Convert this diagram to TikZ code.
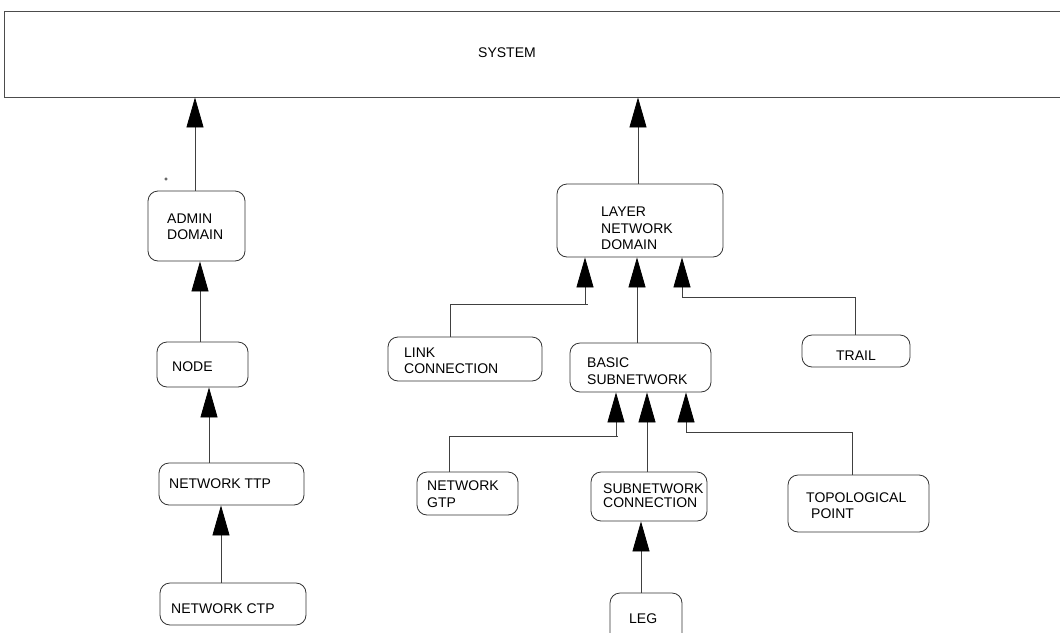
\documentclass[tikz,border=0pt]{standalone}
\usepackage{fontspec}
\setmainfont{Liberation Sans}
\usetikzlibrary{arrows.meta}
\begin{document}
\begin{tikzpicture}[x=1pt,y=-1pt,
  box/.style={draw=black!80, line width=0.8pt, rounded corners=10pt, inner sep=0pt},
  sysbox/.style={draw=black!70, line width=0.9pt, inner sep=0pt},
  lbl/.style={anchor=base west, inner sep=0pt, font=\fontsize{14}{16}\selectfont},
  conn/.style={draw=black!75, line width=0.8pt},
  arr/.style={conn, -{Triangle[length=30pt, width=17pt, color=black, fill=black]}}]
\useasboundingbox (0,0) rectangle (1060,632);
% system
\node[sysbox, minimum width=1066pt, minimum height=86pt] (system) at (537,54) {};
\node[lbl, anchor=base] (tsys) at (507,57) {SYSTEM};
% left column
\node[box, minimum width=97pt, minimum height=70pt] (admin) at (196.5,226) {};
\node[box, minimum width=91pt, minimum height=45pt] (nodeb) at (202.5,364.5) {};
\node[box, minimum width=145pt, minimum height=42pt] (ttp) at (231.5,484) {};
\node[box, minimum width=146pt, minimum height=42pt] (ctp) at (233,604) {};
\node[lbl] (tadmin1) at (167,223) {ADMIN};
\node[lbl] (tadmin2) at (167,239) {DOMAIN};
\node[lbl] (tnode) at (172,371) {NODE};
\node[lbl] (tttp) at (169,488) {NETWORK TTP};
\node[lbl] (tctp) at (171,613) {NETWORK CTP};
\node[circle, draw=black!80, line width=0.6pt, inner sep=0pt, minimum size=2.5pt] (dot) at (166,179) {};
% right part
\node[box, minimum width=166pt, minimum height=73pt] (lnd) at (640,220.5) {};
\node[box, minimum width=154pt, minimum height=44pt] (link) at (465,359) {};
\node[box, minimum width=141pt, minimum height=49pt] (basic) at (640.5,367.5) {};
\node[box, minimum width=108pt, minimum height=32pt] (trail) at (856,351) {};
\node[box, minimum width=101pt, minimum height=43pt] (gtp) at (467.5,493.5) {};
\node[box, minimum width=116pt, minimum height=49pt] (snc) at (649,496.5) {};
\node[box, minimum width=72pt, minimum height=50pt] (leg) at (646,618) {};
\node[box, minimum width=141pt, minimum height=57pt] (topo) at (858.5,503.5) {};
\node[lbl] (tlnd1) at (601,216) {LAYER};
\node[lbl] (tlnd2) at (601,233) {NETWORK};
\node[lbl] (tlnd3) at (601,249) {DOMAIN};
\node[lbl] (tlink1) at (404,357) {LINK};
\node[lbl] (tlink2) at (404,373) {CONNECTION};
\node[lbl] (tbasic1) at (587,367) {BASIC};
\node[lbl] (tbasic2) at (587,384) {SUBNETWORK};
\node[lbl, anchor=base] (ttrail) at (856,360) {TRAIL};
\node[lbl] (tgtp1) at (427,490) {NETWORK};
\node[lbl] (tgtp2) at (427,507) {GTP};
\node[lbl] (tsnc1) at (603,493) {SUBNETWORK};
\node[lbl] (tsnc2) at (603,507) {CONNECTION};
\node[lbl] (tleg) at (629,623) {LEG};
\node[lbl] (ttopo1) at (806,502) {TOPOLOGICAL};
\node[lbl] (ttopo2) at (811,518) {POINT};
% connectors left
\draw[arr] ([xshift=-1.5pt]admin.north) -- ([xshift=-1.5pt]admin.north |- system.south);
\draw[arr] ([xshift=-2.5pt]nodeb.north) -- ([xshift=-2.5pt]nodeb.north |- admin.south);
\draw[arr] ([xshift=-22.5pt]ttp.north) -- ([xshift=-22.5pt]ttp.north |- nodeb.south);
\draw[arr] ([xshift=-12pt]ctp.north) -- ([xshift=-12pt]ctp.north |- ttp.south);
% connectors right
\draw[arr] ([xshift=-2pt]lnd.north) -- ([xshift=-2pt]lnd.north |- system.south);
\draw[arr] ([xshift=-15pt]link.north) |- ([xshift=-55pt,yshift=-47pt]lnd.south) -- ([xshift=-55pt]lnd.south);
\draw[conn] ([xshift=-55pt,yshift=-47pt]lnd.south) -- ([xshift=-52pt,yshift=-47pt]lnd.south);
\draw[arr] ([xshift=-3.5pt]basic.north) -- ([xshift=-3.5pt]basic.north |- lnd.south);
\draw[arr] ([xshift=-1pt]trail.north) |- ([xshift=42pt,yshift=-40pt]lnd.south) -- ([xshift=42pt]lnd.south);
\draw[arr] ([xshift=-18.5pt]gtp.north) |- ([xshift=-24.5pt,yshift=-44pt]basic.south) -- ([xshift=-24.5pt]basic.south);
\draw[conn] ([xshift=-24.5pt,yshift=-44pt]basic.south) -- ([xshift=-23pt,yshift=-44pt]basic.south);
\draw[arr] ([xshift=-2pt]snc.north) -- ([xshift=-2pt]snc.north |- basic.south);
\draw[arr] ([xshift=-6.5pt]topo.north) |- ([xshift=45.5pt,yshift=-40pt]basic.south) -- ([xshift=45.5pt]basic.south);
\draw[arr] ([xshift=-5pt]leg.north) -- ([xshift=-5pt]leg.north |- snc.south);
\end{tikzpicture}
\end{document}
